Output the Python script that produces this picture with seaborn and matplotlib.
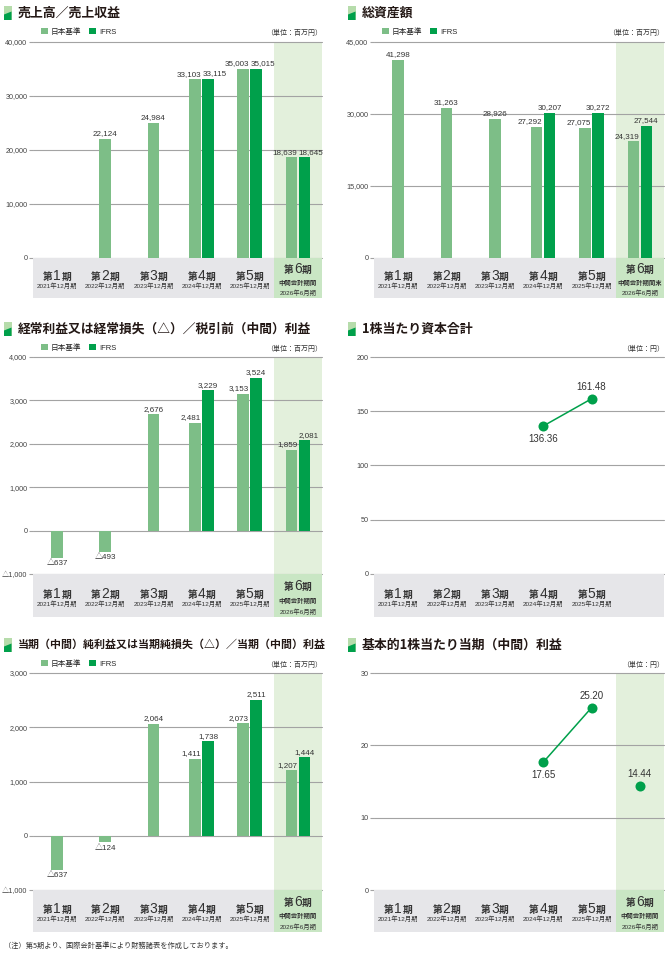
import numpy as np
import pandas as pd
import matplotlib
matplotlib.use("Agg")
import matplotlib.pyplot as plt
import seaborn as sns
from matplotlib.patches import Rectangle, Polygon

# ---- data -------------------------------------------------------------
nan = np.nan
period_nums = ["1", "2", "3", "4", "5", "6"]
period_dates = ["2021年12月期", "2022年12月期", "2023年12月期",
                "2024年12月期", "2025年12月期", "2026年6月期"]
standards = ["日本基準", "IFRS"]

sales_jgaap = [nan, 22124, 24984, 33103, 35003, 18639]
sales_ifrs = [nan, nan, nan, 33115, 35015, 18645]

assets_jgaap = [41298, 31263, 28926, 27292, 27075, 24319]
assets_ifrs = [nan, nan, nan, 30207, 30272, 27544]

ordinary_jgaap = [-637, -493, 2676, 2481, 3153, 1859]
ordinary_ifrs = [nan, nan, nan, 3229, 3524, 2081]

equity_per_share = [nan, nan, nan, 136.36, 161.48, nan]

net_jgaap = [-637, -124, 2064, 1411, 2073, 1207]
net_ifrs = [nan, nan, nan, 1738, 2511, 1444]

eps = [nan, nan, nan, 17.65, 25.20, 14.44]

# label placement for the point charts
equity_places = [None, None, None, "below", "above", None]
eps_places = [None, None, None, "below", "above", "above"]

# ---- style ------------------------------------------------------------
sns.set_style("white")
plt.rcParams["font.family"] = ["Liberation Sans", "Noto Sans CJK JP", "DejaVu Sans"]
CJK = ["Noto Sans CJK JP", "DejaVu Sans"]

LIGHT = "#7dbe87"
DARK = "#00a04b"
HL = "#e3f0dc"
BAND = "#e6e6e9"
BAND_HL = "#c9e6c4"
GRID = "#a3a3a3"
TXT = "#333333"
palette = {standards[0]: LIGHT, standards[1]: DARK}

BAR_W = 0.24
OFF = 0.135

W, H = 672, 955
fig = plt.figure(figsize=(W / 100, H / 100), dpi=100)


def fx(x):
    return x / W


def fy(y):
    return 1 - y / H


def fig_rect(x0, y0, x1, y1):
    return [x0 / W, 1 - y1 / H, (x1 - x0) / W, (y1 - y0) / H]


def fmt(v):
    return f"{v:,.0f}" if v >= 0 else f"△{-v:,.0f}"


def add_title(x, y, text, size=9.3):
    fig.add_artist(Rectangle((fx(x), fy(y + 7)), 7.5 / W, 14 / H,
                             transform=fig.transFigure, color="#b6dcab", lw=0))
    fig.add_artist(Polygon([(fx(x), fy(y + 7)), (fx(x + 7.5), fy(y + 7)),
                            (fx(x + 7.5), fy(y - 1.5)), (fx(x), fy(y + 1.5))],
                           closed=True, transform=fig.transFigure, color=DARK, lw=0))
    fig.text(fx(x + 14), fy(y), text, fontsize=size, fontweight="bold",
             family=CJK, color="#231815", va="center", ha="left")


def setup_axis(ax, ymin, ymax, step):
    ticks = np.arange(ymin, ymax + step / 2, step)
    ax.set_xlim(-0.5, 5.5)
    ax.set_ylim(ymin, ymax)
    ax.set_yticks(ticks)
    ax.set_yticklabels([fmt(t) for t in ticks])
    ax.set_xticks([])
    ax.set_xlabel("")
    ax.set_ylabel("")
    for t in ticks:
        ax.axhline(t, color=GRID, lw=0.8, clip_on=False, zorder=1)
    for s in ax.spines.values():
        s.set_visible(False)
    ax.tick_params(axis="y", length=3, width=0.8, color=GRID, pad=1,
                   labelsize=5.2, labelcolor="#444444", left=True)


def draw_band(cax, interim, sub_label="中間会計期間"):
    cax.set_xlim(-0.5, 5.5)
    cax.set_ylim(0, 1)
    cax.axvspan(-0.5, 5.5, color=BAND, lw=0, zorder=0)
    n = 6 if interim else 5
    if interim:
        cax.axvspan(4.5, 5.5, color=BAND_HL, lw=0, zorder=0)
    for i in range(n):
        yb = 0.62 if i == 5 else 0.45
        cax.text(i, yb, period_nums[i], fontsize=10, family=["Liberation Sans"],
                 ha="center", va="baseline", color="#333333", zorder=5)
        cax.annotate("第", (i, yb), xytext=(-3.1, 0), textcoords="offset points",
                     ha="right", va="baseline", fontsize=7, fontweight="bold",
                     family=CJK, color="#333333", zorder=5)
        cax.annotate("期", (i, yb), xytext=(3.1, 0), textcoords="offset points",
                     ha="left", va="baseline", fontsize=7, fontweight="bold",
                     family=CJK, color="#333333", zorder=5)
        if i == 5:
            cax.text(i, 0.39, sub_label, fontsize=4.6, fontweight="bold", family=CJK,
                     ha="center", va="center", color="#333333", zorder=5)
            cax.text(i, 0.13, period_dates[i], fontsize=4.6, ha="center",
                     va="center", color="#333333", zorder=5)
        else:
            cax.text(i, 0.31, period_dates[i], fontsize=4.6, ha="center",
                     va="center", color="#333333", zorder=5)
    cax.set_axis_off()


def bar_chart(ax, jgaap, ifrs, ymin, ymax, legend_xy):
    rows = []
    for i in range(6):
        pair = not np.isnan(jgaap[i]) and not np.isnan(ifrs[i])
        if not np.isnan(jgaap[i]):
            rows.append((i - OFF if pair else i, jgaap[i], standards[0]))
        if not np.isnan(ifrs[i]):
            rows.append((i + OFF if pair else i, ifrs[i], standards[1]))
    df = pd.DataFrame(rows, columns=["pos", "value", "std"])
    native = np.diff(np.unique(df["pos"])).min()
    sns.barplot(data=df, x="pos", y="value", hue="std", hue_order=standards,
                palette=palette, native_scale=True, dodge=False, orient="x",
                width=BAR_W / native, errorbar=None, saturation=1, linewidth=0,
                zorder=2, ax=ax)
    sns.move_legend(ax, "center left", bbox_to_anchor=legend_xy,
                    bbox_transform=fig.transFigure, ncol=2, frameon=False,
                    title=None, fontsize=5.5, handlelength=0.9, handleheight=0.9,
                    handletextpad=0.35, columnspacing=1.1, borderaxespad=0, borderpad=0)
    yr = ymax - ymin
    for i in range(6):
        j, f = jgaap[i], ifrs[i]
        pair = not np.isnan(j) and not np.isnan(f)
        close = pair and abs(j - f) / yr < 0.045
        labels = []
        if not np.isnan(j):
            labels.append((i - OFF + BAR_W / 2, "right", j) if pair else (i, "center", j))
        if not np.isnan(f):
            if close:
                labels.append((i + OFF - BAR_W / 2, "left", f))
            else:
                labels.append((i + OFF if pair else i, "center", f))
        for x, ha, v in labels:
            ax.annotate(fmt(v), (x, v), xytext=(0, 1.2 if v >= 0 else -1.5),
                        textcoords="offset points", ha=ha,
                        va="bottom" if v >= 0 else "top", fontsize=5.8, color=TXT)


def point_chart(ax, values, places):
    df = pd.DataFrame({"idx": range(6), "value": values}).dropna()
    sns.lineplot(data=df[df["idx"] < 5], x="idx", y="value", color=DARK,
                 lw=1.1, zorder=3, ax=ax)
    sns.scatterplot(data=df, x="idx", y="value", color=DARK, s=52,
                    linewidth=0, zorder=4, ax=ax)
    for i, v in zip(df["idx"], df["value"]):
        up = places[i] == "above"
        ax.annotate(f"{v:.2f}", (i, v), xytext=(0, 4.8 if up else -5.5),
                    textcoords="offset points", ha="center",
                    va="bottom" if up else "top", fontsize=7, color=TXT)


def unit(x, y, text):
    fig.text(fx(x), fy(y), text, fontsize=5, family=CJK, ha="right",
             va="center", color=TXT)


LEFT = (33, 322)
RIGHT = (374, 664)
ROWS = {
    "top": dict(title=13, legend=32, top=42, bottom=258, band=298),
    "mid": dict(title=329, legend=348, top=357, bottom=574, band=617),
    "bot": dict(title=645, legend=664, top=673, bottom=890, band=932),
}


def panel(cols, row, title, unit_text, ymin, ymax, step, interim=True,
          sub_label="中間会計期間", title_size=9.3):
    r = ROWS[row]
    x0, x1 = cols
    ax = fig.add_axes(fig_rect(x0, r["top"], x1, r["bottom"]))
    cax = fig.add_axes(fig_rect(x0, r["bottom"], x1, r["band"]))
    if interim:
        ax.axvspan(4.5, 5.5, color=HL, lw=0, zorder=0)
    draw_band(cax, interim, sub_label)
    add_title(x0 - 29 if cols == LEFT else x0 - 26, r["title"], title, title_size)
    unit(x1, r["legend"] + 1, unit_text)
    legend_xy = (fx(x0 + 8), fy(r["legend"]))
    return ax, legend_xy, ymin, ymax, step


# 売上高／売上収益
ax, lxy, a, b, s = panel(LEFT, "top", "売上高／売上収益", "（単位：百万円）", 0, 40000, 10000)
bar_chart(ax, sales_jgaap, sales_ifrs, a, b, lxy)
setup_axis(ax, a, b, s)

# 総資産額
ax, lxy, a, b, s = panel(RIGHT, "top", "総資産額", "（単位：百万円）", 0, 45000, 15000,
                         sub_label="中間会計期間末")
bar_chart(ax, assets_jgaap, assets_ifrs, a, b, lxy)
setup_axis(ax, a, b, s)

# 経常利益
ax, lxy, a, b, s = panel(LEFT, "mid", "経常利益又は経常損失（△）／税引前（中間）利益",
                         "（単位：百万円）", -1000, 4000, 1000, title_size=9.2)
bar_chart(ax, ordinary_jgaap, ordinary_ifrs, a, b, lxy)
setup_axis(ax, a, b, s)

# 1株当たり資本合計
ax, lxy, a, b, s = panel(RIGHT, "mid", "1株当たり資本合計", "（単位：円）", 0, 200, 50,
                         interim=False)
point_chart(ax, equity_per_share, equity_places)
setup_axis(ax, a, b, s)

# 当期純利益
ax, lxy, a, b, s = panel(LEFT, "bot", "当期（中間）純利益又は当期純損失（△）／当期（中間）利益",
                         "（単位：百万円）", -1000, 3000, 1000, title_size=7.9)
bar_chart(ax, net_jgaap, net_ifrs, a, b, lxy)
setup_axis(ax, a, b, s)

# 基本的1株当たり当期利益
ax, lxy, a, b, s = panel(RIGHT, "bot", "基本的1株当たり当期（中間）利益", "（単位：円）", 0, 30, 10)
point_chart(ax, eps, eps_places)
setup_axis(ax, a, b, s)

fig.text(fx(4), fy(946), "（注）第5期より、国際会計基準により財務諸表を作成しております。",
         fontsize=5.2, family=CJK, color=TXT, va="center", ha="left")

fig.savefig("out.png", dpi=100)
